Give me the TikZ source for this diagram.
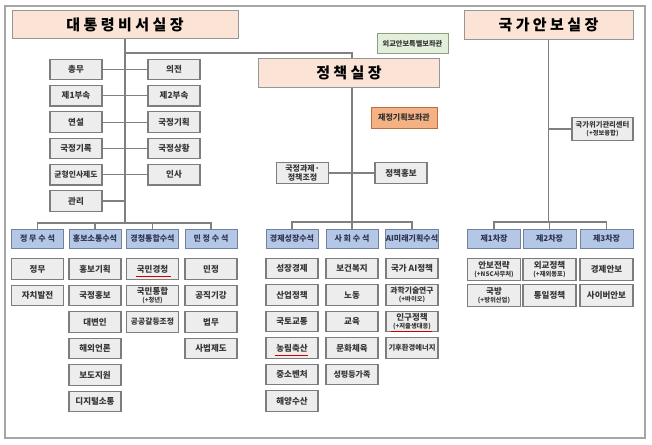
\documentclass[tikz,border=0pt]{standalone}
\usepackage{fontspec}
\setmainfont{Noto Sans CJK KR}
\definecolor{peach}{RGB}{251,228,214}
\definecolor{titleborder}{RGB}{150,150,150}
\definecolor{hdrblue}{RGB}{180,199,231}
\definecolor{hdrborder}{RGB}{115,130,155}
\definecolor{subgray}{RGB}{237,237,237}
\definecolor{boxgray}{RGB}{125,125,125}
\definecolor{txt}{RGB}{55,55,55}
\definecolor{hdrtxt}{RGB}{45,55,80}
\definecolor{linegray}{RGB}{128,128,128}
\definecolor{framegray}{RGB}{165,165,165}
\definecolor{advgreen}{RGB}{226,239,218}
\definecolor{advgreenb}{RGB}{140,160,125}
\definecolor{advorange}{RGB}{244,177,131}
\definecolor{advorangeb}{RGB}{190,110,70}
\newcommand{\smallline}[1]{{\fontsize{6.3}{7}\selectfont #1}}
\tikzset{
  base/.style={draw=boxgray, line width=1pt, inner sep=0pt, align=center, text=txt,
    font=\bfseries\fontsize{8.5}{9.5}\selectfont},
  sub/.style={base, fill=subgray, minimum width=52pt, minimum height=20.5pt, line width=1.2pt},
  hdr/.style={base, fill=hdrblue, draw=hdrborder, text=hdrtxt, minimum width=52pt, minimum height=19pt,
    font=\bfseries\fontsize{8}{9}\selectfont},
  titlebox/.style={base, fill=peach, draw=titleborder, minimum height=28.5pt, text=black,
    font=\bfseries\fontsize{15}{17}\selectfont},
  conn/.style={draw=linegray, line width=1.1pt},
  squig/.style={draw=red!80!black, line width=0.6pt},
}
\begin{document}
\begin{tikzpicture}[x=1pt,y=-1pt]
\fill[white] (0,0) rectangle (652,444);
\useasboundingbox (0,0) rectangle (652,444);
\draw[framegray, line width=1.5pt] (5,6) rectangle (645,438);

% ---- titles
\node[titlebox, minimum width=226pt] (dt) at (125,24.5) {대 통 령 비 서 실 장};
\node[titlebox, minimum width=181pt] (pj) at (349,73) {정 책 실 장};
\node[titlebox, minimum width=169pt] (ks) at (548.5,25) {국 가 안 보 실 장};

\node[base, fill=advgreen, draw=advgreenb, minimum width=71pt, minimum height=19pt,
  font=\bfseries\fontsize{7.2}{8}\selectfont] (wg) at (412.5,43.5) {외교안보특별보좌관};
\node[base, fill=advorange, draw=advorangeb, minimum width=66pt, minimum height=21pt, text=black!80,
  font=\bfseries\fontsize{8}{9}\selectfont] (jj) at (404,117.5) {재정기획보좌관};

% ---- 비서실 upper
\node[sub] (ch) at (76,69.5) {총무};
\node[sub] (uj) at (174,69.5) {의전};
\node[sub] (b1) at (76,95.8) {제1부속};
\node[sub] (b2) at (174,95.8) {제2부속};
\node[sub] (ys) at (76,122.1) {연설};
\node[sub] (gk) at (174,122.1) {국정기획};
\node[sub] (gr) at (76,148.4) {국정기록};
\node[sub] (gs) at (174,148.4) {국정상황};
\node[sub, font=\bfseries\fontsize{7.8}{9}\selectfont] (gy) at (76,174.7) {균형인사제도};
\node[sub] (is) at (174,174.7) {인사};
\node[sub] (gl) at (76,201) {관리};

% ---- 비서실 headers
\node[hdr] (h1) at (37.5,238.5) {정 무 수 석};
\node[hdr] (h2) at (95,238.5) {홍보소통수석};
\node[hdr] (h3) at (152.5,238.5) {경청통합수석};
\node[hdr] (h4) at (211,238.5) {민 정 수 석};

\node[sub] (a1) at (37.5,269) {정무};
\node[sub] (a2) at (37.5,295.5) {자치발전};

\node[sub] (b1a) at (95,269) {홍보기획};
\node[sub] (b2a) at (95,295.5) {국정홍보};
\node[sub] (b3a) at (95,322) {대변인};
\node[sub] (b4a) at (95,348.5) {해외언론};
\node[sub] (b5a) at (95,375) {보도지원};
\node[sub] (b6a) at (95,401.5) {디지털소통};

\node[sub] (c1) at (152.5,269) {국민경청};
\node[sub] (c2) at (152.5,295.5) {국민통합\\[-1pt]\smallline{(+청년)}};
\node[sub, font=\bfseries\fontsize{7.8}{9}\selectfont] (c3) at (152.5,322) {공공갈등조정};

\node[sub] (d1) at (211,269) {민정};
\node[sub] (d2) at (211,295.5) {공직기강};
\node[sub] (d3) at (211,322) {법무};
\node[sub] (d4) at (211,348.5) {사법제도};

% ---- 정책실
\node[sub, font=\bfseries\fontsize{8}{9}\selectfont] (gj) at (302.5,173) {국정과제·\\[-0.5pt]정책조정};
\node[sub] (jh) at (401,173) {정책홍보};

\node[hdr] (m1) at (292,238.5) {경제성장수석};
\node[hdr] (m2) at (352,238.5) {사 회 수 석};
\node[hdr] (m3) at (412,238.5) {AI미래기획수석};

\node[sub] (e1) at (292,268.5) {성장경제};
\node[sub] (e2) at (292,295) {산업정책};
\node[sub] (e3) at (292,321.5) {국토교통};
\node[sub] (e4) at (292,348) {농림축산};
\node[sub] (e5) at (292,374.5) {중소벤처};
\node[sub] (e6) at (292,401) {해양수산};

\node[sub] (s1) at (352,268.5) {보건복지};
\node[sub] (s2) at (352,295) {노동};
\node[sub] (s3) at (352,321.5) {교육};
\node[sub] (s4) at (352,348) {문화체육};
\node[sub, font=\bfseries\fontsize{8}{9}\selectfont] (s5) at (352,374.5) {성평등가족};

\node[sub] (f1) at (412,268.5) {국가 AI정책};
\node[sub, font=\bfseries\fontsize{7.8}{9}\selectfont] (f2) at (412,295) {과학기술연구\\[-1pt]\smallline{(+바이오)}};
\node[sub] (f3) at (412,321.5) {인구정책\\[-1pt]\smallline{(+저출생대응)}};
\node[sub, font=\bfseries\fontsize{7.3}{9}\selectfont] (f4) at (412,348) {기후환경에너지};

% ---- 안보실
\node[base, fill=subgray, line width=1.2pt, minimum width=61pt, minimum height=23pt,
  font=\bfseries\fontsize{7.3}{8}\selectfont] (cc) at (602.5,129) {국가위기관리센터\\[-0.5pt]\smallline{(+정보융합)}};

\node[hdr, minimum width=53pt] (n1) at (494,239) {제1차장};
\node[hdr, minimum width=53pt] (n2) at (549.5,239) {제2차장};
\node[hdr, minimum width=53pt] (n3) at (606.5,239) {제3차장};

\node[sub, minimum width=53pt, minimum height=22pt] (p1) at (494,269.5) {안보전략\\[-1pt]\smallline{(+NSC사무처)}};
\node[sub, minimum width=53pt, minimum height=22pt] (p2) at (494,295.5) {국방\\[-1pt]\smallline{(+방위산업)}};
\node[sub, minimum width=53pt, minimum height=22pt] (q1) at (549.5,269.5) {외교정책\\[-1pt]\smallline{(+재외동포)}};
\node[sub, minimum width=53pt, minimum height=22pt] (q2) at (549.5,295.5) {통일정책};
\node[sub, minimum width=53pt, minimum height=22pt] (r1) at (606.5,269.5) {경제안보};
\node[sub, minimum width=53pt, minimum height=22pt] (r2) at (606.5,295.5) {사이버안보};

% ---- connectors: 비서실
\coordinate (lbus) at (125,223);
\coordinate (br) at (125,53);
\draw[conn] (dt.south) -- (lbus);
\draw[conn] (ch) -- (uj);
\draw[conn] (b1) -- (b2);
\draw[conn] (ys) -- (gk);
\draw[conn] (gr) -- (gs);
\draw[conn] (gy) -- (is);
\draw[conn] (gl.east) -- (gl.east -| lbus);
\draw[conn] (h1.north) -- (h1.north |- lbus) -- (h4.north |- lbus) -- (h4.north);
\draw[conn] (h2.north) -- (h2.north |- lbus);
\draw[conn] (h3.north) -- (h3.north |- lbus);

% ---- connectors: 정책실
\coordinate (mbus) at (352,222);
\draw[conn] (br) -| ([xshift=3pt]pj.north);
\draw[conn] ([xshift=3pt]pj.south) -- (mbus);
\draw[conn] (gj) -- (jh);
\draw[conn] (m1.north) -- (m1.north |- mbus) -- (m3.north |- mbus) -- (m3.north);
\draw[conn] (m2.north) -- (m2.north |- mbus);

% ---- connectors: 안보실
\coordinate (rbus) at (549,222);
\draw[conn] (ks.south) -- (ks.south |- rbus);
\draw[conn] (cc.west -| ks.south) -- (cc.west);
\draw[conn] (n1.north) -- (n1.north |- rbus) -- (n3.north |- rbus) -- (n3.north);
\draw[conn] (n2.north) -- (n2.north |- rbus);

% ---- red underlines
\draw[squig] ([xshift=-17pt,yshift=-7.5pt]c1.center) -- ([xshift=18pt,yshift=-7.5pt]c1.center);
\draw[squig] ([xshift=-17pt,yshift=-7pt]e4.center) -- ([xshift=16pt,yshift=-7pt]e4.center);
\draw[squig] ([xshift=-21pt,yshift=-10pt]f3.center) -- ([xshift=20pt,yshift=-10pt]f3.center);
\end{tikzpicture}
\end{document}
